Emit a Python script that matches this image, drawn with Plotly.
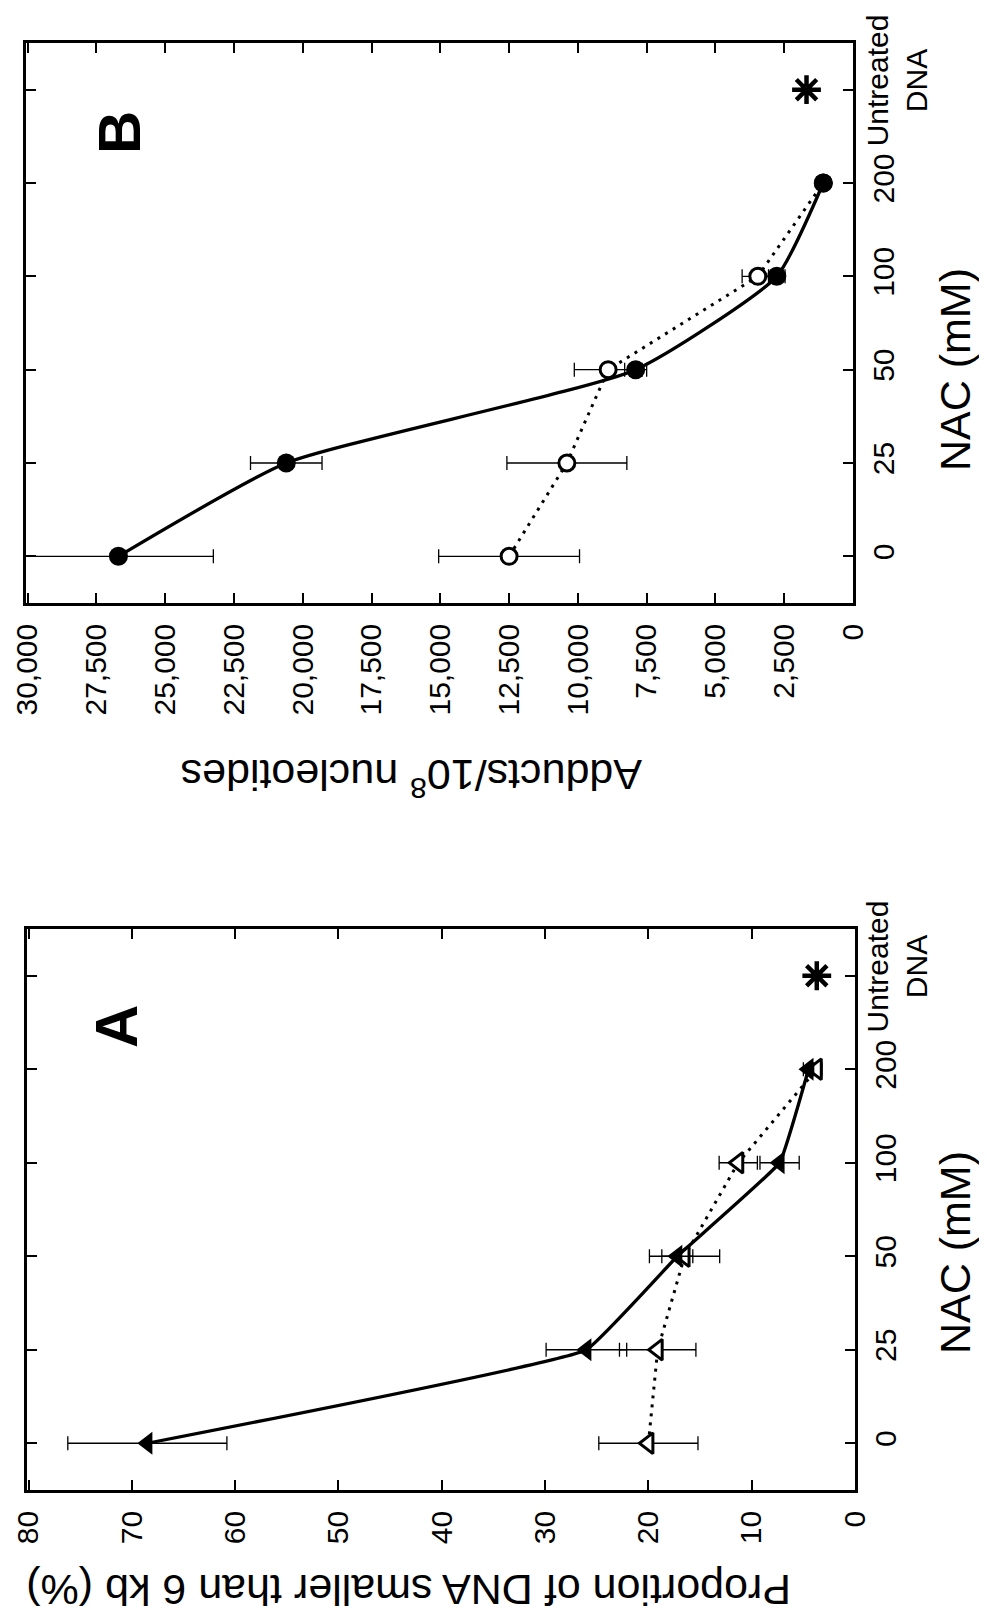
import plotly.graph_objects as go

# ---- data ----
nac_categories = ["0", "25", "50", "100", "200"]
untreated_category = ["Untreated<br>DNA"]
all_categories = nac_categories + untreated_category

# Panel A: proportion of DNA smaller than 6 kb (%)
a_filled = [68.5, 26.0, 17.2, 7.3, 4.5]
a_filled_err = [7.7, 3.9, 1.5, 1.9, 0.5]
a_open = [20.0, 19.1, 16.5, 11.3, 3.7]
a_open_err = [4.8, 3.7, 3.4, 1.85, 0.5]
a_untreated = [3.7]
a_ticks = [0, 10, 20, 30, 40, 50, 60, 70, 80]
a_ticktext = ["0", "10", "20", "30", "40", "50", "60", "70", "80"]

# Panel B: adducts / 10^8 nucleotides
b_filled = [26700, 20600, 7900, 2770, 1080]
b_filled_err = [3450, 1300, 400, 300, 200]
b_open = [12500, 10400, 8900, 3460, 1080]
b_open_err = [2560, 2180, 1230, 570, 200]
b_untreated = [1690]
b_ticks = [0, 2500, 5000, 7500, 10000, 12500, 15000, 17500, 20000, 22500, 25000, 27500, 30000]
b_ticktext = ["0", "2,500", "5,000", "7,500", "10,000", "12,500", "15,000", "17,500",
              "20,000", "22,500", "25,000", "27,500", "30,000"]

FONT = "Liberation Sans, Arial, Helvetica, sans-serif"
OFF = 8                      # the page body has an 8px margin
W, H = 987 - 2 * OFF, 1624 - 2 * OFF

def fx(px):                  # page x pixel -> paper fraction
    return (px - OFF) / W

def fy(py):                  # page y pixel -> paper fraction
    return 1 - (py - OFF) / H

fig = go.Figure()

def err(arr):
    return dict(type="data", array=arr, visible=True, color="black",
                thickness=1.3, width=7)

# ---- Panel A (xaxis / yaxis) ----
fig.add_trace(go.Scatter(
    x=a_open, y=nac_categories, xaxis="x", yaxis="y",
    mode="lines+markers", line=dict(color="black", width=3, dash="3px,6px"),
    marker=dict(symbol="triangle-left", size=18, color="white",
                line=dict(color="black", width=3)),
    error_x=err(a_open_err), showlegend=False))
fig.add_trace(go.Scatter(
    x=a_filled, y=nac_categories, xaxis="x", yaxis="y",
    mode="lines+markers", line=dict(color="black", width=3.3, shape="spline", smoothing=0.25),
    marker=dict(symbol="triangle-left", size=20, color="black"),
    error_x=err(a_filled_err), showlegend=False))
fig.add_trace(go.Scatter(
    x=a_untreated, y=untreated_category, xaxis="x", yaxis="y",
    mode="markers",
    marker=dict(symbol="asterisk-open", size=24, color="black",
                line=dict(color="black", width=4.5)),
    showlegend=False))

# ---- Panel B (xaxis2 / yaxis2) ----
fig.add_trace(go.Scatter(
    x=b_open, y=nac_categories, xaxis="x2", yaxis="y2",
    mode="lines+markers", line=dict(color="black", width=3, dash="3px,6px"),
    marker=dict(symbol="circle", size=16, color="white",
                line=dict(color="black", width=3)),
    error_x=err(b_open_err), showlegend=False))
fig.add_trace(go.Scatter(
    x=b_filled, y=nac_categories, xaxis="x2", yaxis="y2",
    mode="lines+markers", line=dict(color="black", width=3.3, shape="spline", smoothing=0.5),
    marker=dict(symbol="circle", size=19, color="black"),
    error_x=err(b_filled_err), showlegend=False))
fig.add_trace(go.Scatter(
    x=b_untreated, y=untreated_category, xaxis="x2", yaxis="y2",
    mode="markers",
    marker=dict(symbol="asterisk-open", size=24, color="black",
                line=dict(color="black", width=4.5)),
    showlegend=False))

tickfont = dict(family=FONT, size=30, color="black")

def xax(domain, rng, tv, tt, anchor):
    return dict(domain=domain, range=rng, anchor=anchor, tickmode="array",
                tickvals=tv, ticktext=tt, tickangle=-90, ticks="inside",
                ticklen=10, tickwidth=2, tickcolor="black", showline=True,
                linecolor="black", linewidth=2.5, mirror="ticks", showgrid=False,
                zeroline=False, tickfont=tickfont, ticklabelstandoff=6,
                ticklabeloverflow="allow", automargin=False)

def yax(domain, anchor):
    # the last category's label is drawn as an annotation (two centred lines)
    return dict(domain=domain, range=[-0.5, 5.5], anchor=anchor, type="category",
                categoryorder="array", categoryarray=all_categories, side="right",
                tickmode="array", tickvals=all_categories,
                ticktext=nac_categories + [""],
                tickangle=-90, ticks="inside", ticklen=10, tickwidth=2,
                tickcolor="black", showline=True, linecolor="black", linewidth=2.5,
                mirror="ticks", showgrid=False, zeroline=False, tickfont=tickfont,
                ticklabelstandoff=2, ticklabeloverflow="allow", automargin=False)

fig.update_layout(
    width=W, height=H, margin=dict(l=0, r=0, t=0, b=0, autoexpand=False),
    paper_bgcolor="white", plot_bgcolor="white",
    xaxis=xax([fx(27), fx(855)], [80.15, 0], a_ticks, a_ticktext, "y"),
    yaxis=yax([fy(1490), fy(929)], "x"),
    xaxis2=xax([fx(26), fx(853)], [30060, 0], b_ticks, b_ticktext, "y2"),
    yaxis2=yax([fy(603), fy(43)], "x2"),
)

ann = []
def txt(text, px, py, size, angle, bold=False):
    ann.append(dict(text=("<b>%s</b>" % text) if bold else text,
                    x=fx(px), y=fy(py), xref="paper", yref="paper",
                    showarrow=False, textangle=angle, xanchor="center", yanchor="middle",
                    font=dict(family=FONT, size=size, color="black")))

txt("Proportion of DNA smaller than 6 kb (%)", 409, 1590, 43, 180)
txt("Adducts/10<sup>8</sup> nucleotides", 412, 778, 43, 180)
txt("NAC (mM)", 955, 1253, 43, -90)
txt("NAC (mM)", 955, 370, 43, -90)
txt("A", 116, 1027, 60, -90, bold=True)
txt("B", 119, 133, 60, -90, bold=True)

# "Untreated DNA" category label near its tick (category index 5)
for yref in ("y", "y2"):
    ann.append(dict(text=untreated_category[0], x=fx(897), xref="paper",
                    y=5.1, yref=yref, showarrow=False, textangle=-90,
                    xanchor="center", yanchor="middle", align="center",
                    font=dict(family=FONT, size=30, color="black")))
fig.update_layout(annotations=ann)

fig.write_html("out.html")
